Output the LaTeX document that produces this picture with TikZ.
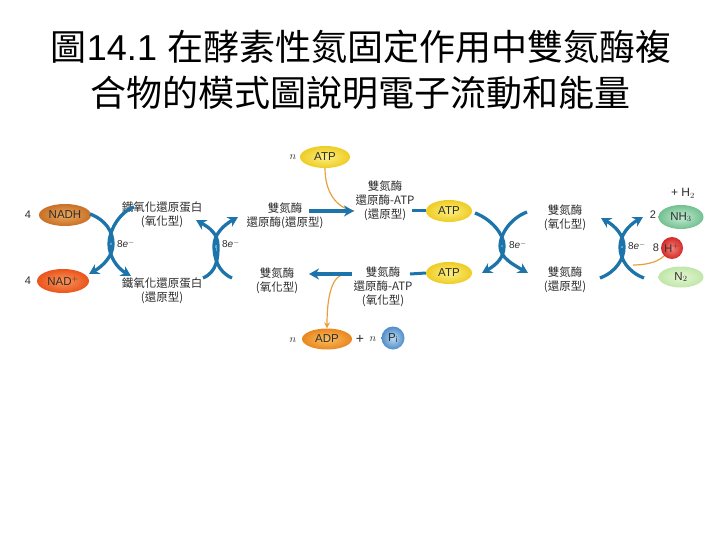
\documentclass[tikz,border=0pt]{standalone}
\usepackage{fontspec}
\setmainfont{Liberation Sans}
\newfontfamily\cjk{Noto Sans CJK TC}
\usetikzlibrary{shapes.geometric,arrows.meta}
\definecolor{flowblue}{RGB}{28,116,170}
\definecolor{thinorange}{RGB}{232,160,60}
\definecolor{nadhI}{RGB}{236,168,92}
\definecolor{nadhO}{RGB}{200,112,40}
\definecolor{nadpI}{RGB}{250,150,90}
\definecolor{nadpO}{RGB}{234,84,28}
\definecolor{atpI}{RGB}{252,240,130}
\definecolor{atpO}{RGB}{238,204,36}
\definecolor{adpI}{RGB}{248,192,96}
\definecolor{adpO}{RGB}{234,134,32}
\definecolor{nhI}{RGB}{195,235,210}
\definecolor{nhO}{RGB}{115,192,145}
\definecolor{ntI}{RGB}{228,246,210}
\definecolor{ntO}{RGB}{192,230,168}
\definecolor{hpI}{RGB}{245,130,120}
\definecolor{hpO}{RGB}{210,40,40}
\definecolor{piI}{RGB}{185,218,242}
\definecolor{piO}{RGB}{80,140,200}
\definecolor{txt}{RGB}{45,45,45}
\begin{document}
\begin{tikzpicture}[x=1pt,y=-1pt,
  lbl/.style={font=\cjk\fontsize{11.5}{14}\selectfont, align=center, inner sep=0pt, text=txt},
  ell/.style={ellipse, inner sep=0pt, minimum width=50pt, minimum height=22pt, font=\fontsize{11.5}{12}\selectfont, text=txt},
  num/.style={font=\fontsize{11}{12}\selectfont, inner sep=0pt, text=txt},
  elab/.style={font=\fontsize{10}{11}\selectfont, inner sep=0pt, text=txt},
  bluearrow/.style={draw=flowblue, line width=3.3pt, -{Stealth[length=10pt,width=11pt]}},
  bluebar/.style={draw=flowblue, line width=3pt},
  orangeline/.style={draw=thinorange, line width=1.2pt}
]
\useasboundingbox (0,0) rectangle (720,540);

% title
\node[font=\fontsize{36}{42}\selectfont, inner sep=0pt] (title1) at (361,47)
  {{\cjk 圖}14.1 {\cjk 在酵素性氮固定作用中雙氮酶複}};
\node[font=\cjk\fontsize{36}{42}\selectfont, inner sep=0pt] (title2) at (360,93)
  {合物的模式圖說明電子流動和能量};

% left molecules
\node[num] (n4a) at (28,215) {4};
\node[num] (n4b) at (28,281) {4};
\node[ell, minimum width=52pt, shading=radial, inner color=nadhI, outer color=nadhO] (nadh) at (65,215) {NADH};
\node[ell, minimum width=52pt, minimum height=24pt, shading=radial, inner color=nadpI, outer color=nadpO] (nadp) at (63,281) {NAD$^{+}$};

% labels
\node[lbl] (fdox) at (162,215) {鐵氧化還原蛋白\\(氧化型)};
\node[lbl] (fdred) at (162,291) {鐵氧化還原蛋白\\(還原型)};
\node[lbl] (drred) at (285,216) {雙氮酶\\還原酶(還原型)};
\node[lbl] (dratpred) at (385,201) {雙氮酶\\還原酶-ATP\\(還原型)};
\node[lbl] (dratpox) at (383,287) {雙氮酶\\還原酶-ATP\\(氧化型)};
\node[lbl] (drox) at (277,281) {雙氮酶\\(氧化型)};
\node[lbl] (dnox) at (565,218) {雙氮酶\\(氧化型)};
\node[lbl] (dnred) at (565,280) {雙氮酶\\(還原型)};

% ATP / ADP / Pi
\node[num] (nA) at (293,157) {$n$};
\node[ell, shading=radial, inner color=atpI, outer color=atpO] (atp1) at (325,157) {ATP};
\node[ell, minimum width=46pt, shading=radial, inner color=atpI, outer color=atpO] (atp2) at (449,211) {ATP};
\node[ell, minimum width=46pt, shading=radial, inner color=atpI, outer color=atpO] (atp3) at (449,273) {ATP};
\node[num] (nB) at (293,340) {$n$};
\node[ell, minimum height=21pt, shading=radial, inner color=adpI, outer color=adpO] (adp) at (327,339) {ADP};
\node[num, font=\fontsize{14}{14}\selectfont] (plus1) at (360,339) {+};
\node[num] (nC) at (373,339) {$n$};
\node[circle, minimum size=23pt, inner sep=0pt, shading=radial, inner color=piI, outer color=piO, font=\fontsize{11.5}{12}\selectfont, text=txt] (pi) at (393,338) {P$_\mathrm{i}$};

% right molecules
\node[num, font=\fontsize{12}{12}\selectfont] (h2) at (683,193) {+ H$_2$};
\node[num] (n2) at (653,215) {2};
\node[ell, minimum width=45pt, minimum height=24pt, shading=radial, inner color=nhI, outer color=nhO] (nh3) at (681,217) {NH$_3$};
\node[num] (n8) at (656,248) {8};
\node[circle, minimum size=22pt, inner sep=0pt, shading=radial, inner color=hpI, outer color=hpO, font=\fontsize{11}{12}\selectfont, text=txt] (hp) at (672,248) {H$^{+}$};
\node[ell, minimum width=45pt, minimum height=21pt, shading=radial, inner color=ntI, outer color=ntO] (n2m) at (681,277) {N$_2$};

% X1
\coordinate (x1t) at (90,214); \coordinate (x1b) at (89,274);
\coordinate (x1T) at (134,207); \coordinate (x1B) at (131,276);
\coordinate (k1a) at (113,244); \coordinate (k1b) at (109,244);
\draw[bluearrow] (x1t) .. controls +(16,6) and +(0,-12) .. (k1a) .. controls +(0,12) and +(14,-8) .. (x1b);
\draw[bluearrow] (x1T) .. controls +(-16,6) and +(0,-12) .. (k1b) .. controls +(0,12) and +(-14,-8) .. (x1B);

% X2
\coordinate (x2t) at (196,220); \coordinate (x2b) at (203,278);
\coordinate (x2T) at (238,217); \coordinate (x2B) at (232,278);
\coordinate (k2a) at (218,246); \coordinate (k2b) at (214,246);
\draw[bluearrow] (x2b) .. controls +(14,-6) and +(0,12) .. (k2a) .. controls +(0,-12) and +(14,8) .. (x2t);
\draw[bluearrow] (x2B) .. controls +(-14,-6) and +(0,12) .. (k2b) .. controls +(0,-12) and +(-14,8) .. (x2T);

% X3
\coordinate (x3t) at (475,213); \coordinate (x3b) at (482,273);
\coordinate (x3T) at (527,212); \coordinate (x3B) at (528,273);
\coordinate (k3a) at (504,246); \coordinate (k3b) at (500,246);
\draw[bluearrow] (x3t) .. controls +(16,6) and +(0,-12) .. (k3a) .. controls +(0,12) and +(14,-8) .. (x3b);
\draw[bluearrow] (x3T) .. controls +(-16,6) and +(0,-12) .. (k3b) .. controls +(0,12) and +(-14,-8) .. (x3B);

% X4
\coordinate (x4t) at (601,218); \coordinate (x4b) at (600,278);
\coordinate (x4T) at (643,217); \coordinate (x4B) at (644,278);
\coordinate (k4a) at (624,247); \coordinate (k4b) at (620,247);
\draw[bluearrow] (x4b) .. controls +(16,-6) and +(0,12) .. (k4a) .. controls +(0,-12) and +(14,8) .. (x4t);
\draw[bluearrow] (x4B) .. controls +(-16,-6) and +(0,12) .. (k4b) .. controls +(0,-12) and +(-14,8) .. (x4T);

% electron labels
\node[elab] (e1) at (126,244) {8\textit{e}$^{-}$};
\node[elab] (e2) at (231,244) {8\textit{e}$^{-}$};
\node[elab] (e3) at (518,245) {8\textit{e}$^{-}$};
\node[elab] (e4) at (637,246) {8\textit{e}$^{-}$};

% middle reactions
\coordinate (m1s) at (309,211); \coordinate (m1e) at (354,211);
\draw[orangeline] (atp1.south) .. controls +(0,28) and +(-14,-2) .. (m1e);
\draw[bluearrow] (m1s) -- (m1e);
\coordinate (b1s) at (412,211);
\draw[bluebar] (b1s) -- (atp2.west);

\coordinate (m2s) at (352,274); \coordinate (m2e) at (309,274);
\coordinate (o2s) at (341,275);
\draw[orangeline, -{Stealth[length=6pt,width=6pt]}] (o2s) .. controls +(-12,6) and +(0,-22) .. (adp.north);
\draw[bluearrow] (m2s) -- (m2e);
\coordinate (b2s) at (410,274);
\draw[bluebar] (b2s) -- (atp3.west);

% H+ line
\coordinate (h2e) at (633,265);
\draw[orangeline] (hp.south west) .. controls +(-8,8) and +(8,0) .. (h2e);
\end{tikzpicture}
\end{document}
